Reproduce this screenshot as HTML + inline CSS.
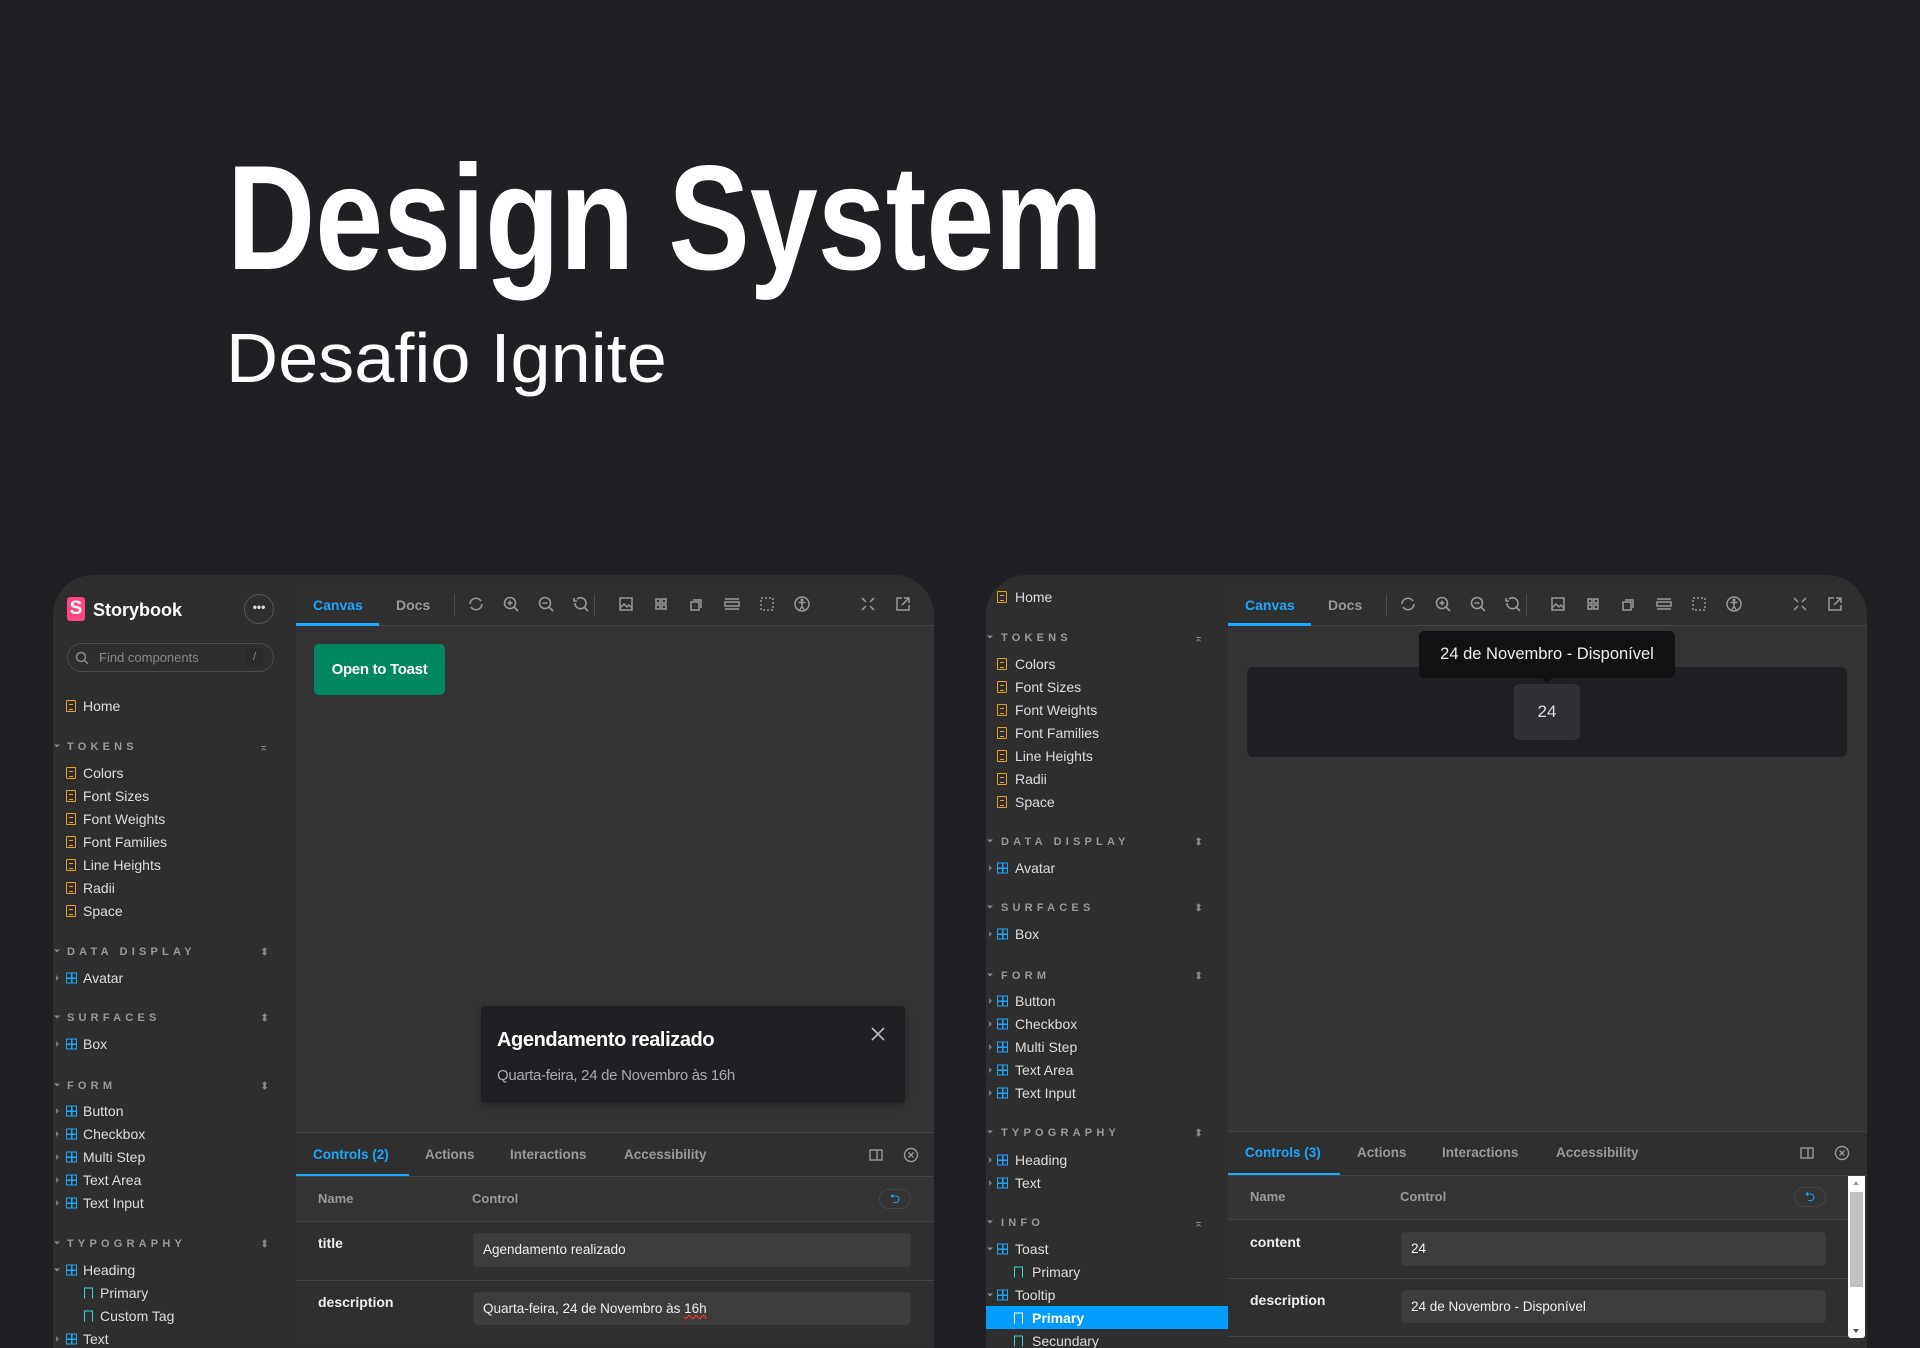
<!DOCTYPE html>
<html><head><meta charset="utf-8">
<style>
*{margin:0;padding:0;box-sizing:border-box}
body{width:1920px;height:1348px;background:#202024;overflow:hidden;position:relative;font-family:"Liberation Sans",Arial,sans-serif;color:#ddd}
.abs{position:absolute}
.t{position:absolute;white-space:nowrap;line-height:20px;transform:translateY(-50%)}
.panel{position:absolute;top:575px;width:881px;height:773px;border-radius:40px 40px 0 0;overflow:hidden;background:#2e2e2e}
.main{position:absolute;top:8px;bottom:8px;right:0;background:#333;border-radius:0 34px 0 0;overflow:hidden}
.tb{position:absolute;left:0;right:0;top:0;height:43px;background:#2f2f2f;border-bottom:1px solid #444}
.it{font-size:14px;color:#ddd}
.hd{font-size:11px;font-weight:bold;letter-spacing:4.2px;color:#999}
.doc{position:absolute;width:10px;height:12px;border:1.6px solid #e3a02c;border-radius:1px;transform:translateY(-50%)}
.doc:after{content:"";position:absolute;left:1.5px;top:2.5px;width:4px;height:4px;border-top:1.5px solid #e3a02c;border-bottom:1.5px solid #e3a02c}
.cmp{position:absolute;width:11px;height:11px;border:1.5px solid #1ea7fd;transform:translateY(-50%);background:linear-gradient(#1ea7fd,#1ea7fd) 3.5px 0/1.5px 100% no-repeat,linear-gradient(#1ea7fd,#1ea7fd) 0 3.5px/100% 1.5px no-repeat}
.sto{position:absolute;width:9px;height:11px;border:1.5px solid #37d5d3;border-bottom:none;transform:translateY(-50%)}
.car{position:absolute;width:0;height:0;border-top:3px solid transparent;border-bottom:3px solid transparent;border-left:3px solid #777;transform:translateY(-50%)}
.cdn{position:absolute;width:0;height:0;border-left:3px solid transparent;border-right:3px solid transparent;border-top:3px solid #888;transform:translateY(-50%)}
.tog{position:absolute;font-size:11px;color:#888;transform:translateY(-50%)}
.ic{position:absolute;top:12px;width:18px;height:18px}
.sep{position:absolute;top:11px;width:1px;height:22px;background:#4a4a4a}
.tab{font-size:14px;font-weight:bold;color:#999}
.inp{position:absolute;background:#3d3d3d;border-radius:4px;border:1px solid #3a3a3a}
.lbl{font-size:14px;font-weight:bold;color:#eee}
</style></head><body>

<div class="abs" style="left:227px;top:128px;font-size:149px;font-weight:bold;color:#fff;line-height:180px;transform:scaleX(0.82);transform-origin:0 0;white-space:nowrap">Design System</div>
<div class="abs" style="left:226px;top:313px;font-size:70px;color:#fff;line-height:90px;white-space:nowrap;transform:scaleX(1.03);transform-origin:0 0">Desafio Ignite</div>

<!-- LEFT PANEL -->
<div class="panel" style="left:53px">
  <div class="abs" style="left:14px;top:22px;width:18px;height:24px;background:#ff4785;border-radius:3px;color:#fff;font-weight:bold;font-size:19px;line-height:24px;text-align:center">S</div>
  <div class="t" style="left:40px;top:35px;font-size:18px;font-weight:bold;color:#fff">Storybook</div>
  <div class="abs" style="left:191px;top:19px;width:30px;height:30px;border:1.5px solid #555;border-radius:50%;color:#ddd;font-size:12px;line-height:24px;text-align:center;font-weight:bold">•••</div>
  <div class="abs" style="left:14px;top:68px;width:207px;height:29px;border:1.5px solid #4a4a4a;border-radius:15px"></div>
  <svg class="abs" style="left:22px;top:76px" width="14" height="14"><circle cx="6" cy="6" r="4.5" fill="none" stroke="#888" stroke-width="1.5"/><line x1="9.5" y1="9.5" x2="13" y2="13" stroke="#888" stroke-width="1.5"/></svg>
  <div class="t" style="left:46px;top:83px;font-size:13px;color:#888">Find components</div>
  <div class="abs" style="left:193px;top:74px;width:17px;height:17px;background:#2a2a2a;color:#888;font-size:11px;text-align:center;line-height:17px">/</div>

  <div class="doc" style="left:13px;top:131px"></div><div class="t it" style="left:30px;top:131px">Home</div>

  <div class="cdn" style="left:1px;top:171px"></div>
  <div class="t hd" style="left:14px;top:172px">TOKENS</div><div class="tog" style="left:206px;top:172px">⌅</div>
  <div class="doc" style="left:13px;top:198px"></div><div class="t it" style="left:30px;top:198px">Colors</div>
  <div class="doc" style="left:13px;top:221px"></div><div class="t it" style="left:30px;top:221px">Font Sizes</div>
  <div class="doc" style="left:13px;top:244px"></div><div class="t it" style="left:30px;top:244px">Font Weights</div>
  <div class="doc" style="left:13px;top:267px"></div><div class="t it" style="left:30px;top:267px">Font Families</div>
  <div class="doc" style="left:13px;top:290px"></div><div class="t it" style="left:30px;top:290px">Line Heights</div>
  <div class="doc" style="left:13px;top:313px"></div><div class="t it" style="left:30px;top:313px">Radii</div>
  <div class="doc" style="left:13px;top:336px"></div><div class="t it" style="left:30px;top:336px">Space</div>

  <div class="cdn" style="left:1px;top:376px"></div><div class="t hd" style="left:14px;top:377px">DATA DISPLAY</div><div class="tog" style="left:207px;top:377px">⬍</div>
  <div class="car" style="left:3px;top:403px"></div><div class="cmp" style="left:13px;top:403px"></div><div class="t it" style="left:30px;top:403px">Avatar</div>

  <div class="cdn" style="left:1px;top:442px"></div><div class="t hd" style="left:14px;top:443px">SURFACES</div><div class="tog" style="left:207px;top:443px">⬍</div>
  <div class="car" style="left:3px;top:469px"></div><div class="cmp" style="left:13px;top:469px"></div><div class="t it" style="left:30px;top:469px">Box</div>

  <div class="cdn" style="left:1px;top:510px"></div><div class="t hd" style="left:14px;top:511px">FORM</div><div class="tog" style="left:207px;top:511px">⬍</div>
  <div class="car" style="left:3px;top:536px"></div><div class="cmp" style="left:13px;top:536px"></div><div class="t it" style="left:30px;top:536px">Button</div>
  <div class="car" style="left:3px;top:559px"></div><div class="cmp" style="left:13px;top:559px"></div><div class="t it" style="left:30px;top:559px">Checkbox</div>
  <div class="car" style="left:3px;top:582px"></div><div class="cmp" style="left:13px;top:582px"></div><div class="t it" style="left:30px;top:582px">Multi Step</div>
  <div class="car" style="left:3px;top:605px"></div><div class="cmp" style="left:13px;top:605px"></div><div class="t it" style="left:30px;top:605px">Text Area</div>
  <div class="car" style="left:3px;top:628px"></div><div class="cmp" style="left:13px;top:628px"></div><div class="t it" style="left:30px;top:628px">Text Input</div>

  <div class="cdn" style="left:1px;top:668px"></div><div class="t hd" style="left:14px;top:669px">TYPOGRAPHY</div><div class="tog" style="left:207px;top:669px">⬍</div>
  <div class="cdn" style="left:1px;top:695px"></div><div class="cmp" style="left:13px;top:695px"></div><div class="t it" style="left:30px;top:695px">Heading</div>
  <div class="sto" style="left:31px;top:718px"></div><div class="t it" style="left:47px;top:718px">Primary</div>
  <div class="sto" style="left:31px;top:741px"></div><div class="t it" style="left:47px;top:741px">Custom Tag</div>
  <div class="car" style="left:3px;top:764px"></div><div class="cmp" style="left:13px;top:764px"></div><div class="t it" style="left:30px;top:764px">Text</div>

  <div class="main" style="left:243px">
    <div class="tb">
      <div class="t tab" style="left:17px;top:22px;color:#1ea7fd">Canvas</div>
      <div class="abs" style="left:0;top:40px;width:83px;height:3px;background:#1ea7fd"></div>
      <div class="t tab" style="left:100px;top:22px">Docs</div>
      <div class="sep" style="left:158px"></div>
      <svg class="ic" style="left:171px" viewBox="0 0 18 18" fill="none" stroke="#999" stroke-width="1.6"><path d="M3 9a6 6 0 0 1 11-3M15 9a6 6 0 0 1-11 3"/></svg>
      <svg class="ic" style="left:206px" viewBox="0 0 18 18" fill="none" stroke="#999" stroke-width="1.6"><circle cx="8" cy="8" r="5.5"/><path d="M12 12l4 4M5.5 8h5M8 5.5v5"/></svg>
      <svg class="ic" style="left:241px" viewBox="0 0 18 18" fill="none" stroke="#999" stroke-width="1.6"><circle cx="8" cy="8" r="5.5"/><path d="M12 12l4 4M5.5 8h5"/></svg>
      <svg class="ic" style="left:276px" viewBox="0 0 18 18" fill="none" stroke="#999" stroke-width="1.6"><path d="M3 8a5.5 5.5 0 1 0 2-4M12 12l4 4M2 3v3h3"/></svg>
      <div class="sep" style="left:298px"></div>
      <svg class="ic" style="left:321px" viewBox="0 0 18 18" fill="none" stroke="#999" stroke-width="1.5"><rect x="3" y="3" width="12" height="12"/><path d="M3 13l4-4 3 3 2-2 3 3"/></svg>
      <svg class="ic" style="left:356px" viewBox="0 0 18 18" fill="none" stroke="#999" stroke-width="1.5"><rect x="4" y="4" width="4" height="4"/><rect x="10" y="4" width="4" height="4"/><rect x="4" y="10" width="4" height="4"/><rect x="10" y="10" width="4" height="4"/></svg>
      <svg class="ic" style="left:391px" viewBox="0 0 18 18" fill="none" stroke="#999" stroke-width="1.5"><rect x="4" y="7" width="8" height="8"/><path d="M6 5h8v8"/></svg>
      <svg class="ic" style="left:427px" viewBox="0 0 18 18" fill="none" stroke="#999" stroke-width="1.5"><path d="M2 4h14M2 14h14"/><rect x="2" y="7" width="14" height="4"/></svg>
      <svg class="ic" style="left:462px" viewBox="0 0 18 18" fill="none" stroke="#999" stroke-width="1.5" stroke-dasharray="2 2"><rect x="3" y="3" width="12" height="12"/></svg>
      <svg class="ic" style="left:497px" viewBox="0 0 18 18" fill="none" stroke="#999" stroke-width="1.5"><circle cx="9" cy="9" r="7"/><path d="M5.5 7.5h7M9 7.5v4l-2 3M9 11.5l2 3"/><circle cx="9" cy="5" r="0.8" fill="#999"/></svg>
      <svg class="ic" style="left:563px" viewBox="0 0 18 18" fill="none" stroke="#999" stroke-width="1.5"><path d="M3 3l4 4M15 3l-4 4M3 15l4-4M15 15l-4-4"/></svg>
      <svg class="ic" style="left:598px" viewBox="0 0 18 18" fill="none" stroke="#999" stroke-width="1.5"><path d="M8 3H3v12h12v-5M10 3h5v5M15 3l-7 7"/></svg>
    </div>
    <div class="abs" style="left:18px;top:61px;width:131px;height:51px;background:#00875f;border-radius:5px;color:#fff;font-weight:bold;font-size:15px;line-height:51px;text-align:center;letter-spacing:-0.3px">Open to Toast</div>
    <div class="abs" style="left:185px;top:423px;width:424px;height:97px;background:#202024;border-radius:4px;box-shadow:0 2px 8px rgba(0,0,0,.3)"></div>
    <div class="t" style="left:201px;top:457px;font-size:20px;font-weight:bold;color:#fff;letter-spacing:-0.4px">Agendamento realizado</div>
    <div class="t" style="left:201px;top:493px;font-size:15px;color:#a9a9b2;letter-spacing:-0.3px">Quarta-feira, 24 de Novembro às 16h</div>
    <svg class="abs" style="left:575px;top:444px" width="14" height="14" stroke="#bbb" stroke-width="1.6"><path d="M1 1l12 12M13 1L1 13"/></svg>

    <div class="abs" style="left:0;right:0;top:549px;bottom:0;background:#2f2f2f;border-top:1px solid #444"></div>
    <div class="t tab" style="left:17px;top:572px;color:#1ea7fd;font-size:13.5px">Controls (2)</div>
    <div class="abs" style="left:0;top:591px;width:113px;height:3px;background:#1ea7fd"></div>
    <div class="t tab" style="left:129px;top:572px;font-size:13.5px">Actions</div>
    <div class="t tab" style="left:214px;top:572px;font-size:13.5px">Interactions</div>
    <div class="t tab" style="left:328px;top:572px;font-size:13.5px">Accessibility</div>
    <svg class="abs" style="left:573px;top:565px" width="14" height="14" fill="none" stroke="#999" stroke-width="1.4"><rect x="1" y="2" width="12" height="10"/><path d="M8 2v10"/></svg>
    <svg class="abs" style="left:607px;top:564px" width="16" height="16" fill="none" stroke="#999" stroke-width="1.4"><circle cx="8" cy="8" r="6.5"/><path d="M5.5 5.5l5 5M10.5 5.5l-5 5"/></svg>
    <div class="abs" style="left:0;right:0;top:593px;height:1px;background:#444"></div>
    <div class="abs" style="left:0;right:0;top:594px;height:44px;background:#333"></div>
    <div class="t" style="left:22px;top:616px;font-size:13px;font-weight:bold;color:#999">Name</div>
    <div class="t" style="left:176px;top:616px;font-size:13px;font-weight:bold;color:#999">Control</div>
    <div class="abs" style="left:583px;top:606px;width:32px;height:20px;border:1px solid #444;border-radius:10px;color:#1ea7fd;font-size:13px;text-align:center;line-height:18px">⮌</div>
    <div class="abs" style="left:0;right:0;top:638px;height:1px;background:#444"></div>
    <div class="t lbl" style="left:22px;top:660px">title</div>
    <div class="inp" style="left:177px;top:650px;width:438px;height:34px"></div>
    <div class="t" style="left:187px;top:667px;font-size:13.5px;color:#eee">Agendamento realizado</div>
    <div class="abs" style="left:0;right:0;top:697px;height:1px;background:#444"></div>
    <div class="t lbl" style="left:22px;top:719px">description</div>
    <div class="inp" style="left:177px;top:709px;width:438px;height:33px"></div>
    <div class="t" style="left:187px;top:726px;font-size:13.5px;color:#eee">Quarta-feira, 24 de Novembro às <span style="text-decoration:underline wavy #e33">16h</span></div>
  </div>
</div>

<!-- RIGHT PANEL -->
<div class="panel" style="left:986px">
  <div class="doc" style="left:11px;top:22px"></div><div class="t it" style="left:29px;top:22px">Home</div>
  <div class="cdn" style="left:1px;top:62px"></div><div class="t hd" style="left:15px;top:63px">TOKENS</div><div class="tog" style="left:208px;top:63px">⌅</div>
  <div class="doc" style="left:11px;top:89px"></div><div class="t it" style="left:29px;top:89px">Colors</div>
  <div class="doc" style="left:11px;top:112px"></div><div class="t it" style="left:29px;top:112px">Font Sizes</div>
  <div class="doc" style="left:11px;top:135px"></div><div class="t it" style="left:29px;top:135px">Font Weights</div>
  <div class="doc" style="left:11px;top:158px"></div><div class="t it" style="left:29px;top:158px">Font Families</div>
  <div class="doc" style="left:11px;top:181px"></div><div class="t it" style="left:29px;top:181px">Line Heights</div>
  <div class="doc" style="left:11px;top:204px"></div><div class="t it" style="left:29px;top:204px">Radii</div>
  <div class="doc" style="left:11px;top:227px"></div><div class="t it" style="left:29px;top:227px">Space</div>

  <div class="cdn" style="left:1px;top:266px"></div><div class="t hd" style="left:15px;top:267px">DATA DISPLAY</div><div class="tog" style="left:208px;top:267px">⬍</div>
  <div class="car" style="left:3px;top:293px"></div><div class="cmp" style="left:11px;top:293px"></div><div class="t it" style="left:29px;top:293px">Avatar</div>
  <div class="cdn" style="left:1px;top:332px"></div><div class="t hd" style="left:15px;top:333px">SURFACES</div><div class="tog" style="left:208px;top:333px">⬍</div>
  <div class="car" style="left:3px;top:359px"></div><div class="cmp" style="left:11px;top:359px"></div><div class="t it" style="left:29px;top:359px">Box</div>
  <div class="cdn" style="left:1px;top:400px"></div><div class="t hd" style="left:15px;top:401px">FORM</div><div class="tog" style="left:208px;top:401px">⬍</div>
  <div class="car" style="left:3px;top:426px"></div><div class="cmp" style="left:11px;top:426px"></div><div class="t it" style="left:29px;top:426px">Button</div>
  <div class="car" style="left:3px;top:449px"></div><div class="cmp" style="left:11px;top:449px"></div><div class="t it" style="left:29px;top:449px">Checkbox</div>
  <div class="car" style="left:3px;top:472px"></div><div class="cmp" style="left:11px;top:472px"></div><div class="t it" style="left:29px;top:472px">Multi Step</div>
  <div class="car" style="left:3px;top:495px"></div><div class="cmp" style="left:11px;top:495px"></div><div class="t it" style="left:29px;top:495px">Text Area</div>
  <div class="car" style="left:3px;top:518px"></div><div class="cmp" style="left:11px;top:518px"></div><div class="t it" style="left:29px;top:518px">Text Input</div>
  <div class="cdn" style="left:1px;top:557px"></div><div class="t hd" style="left:15px;top:558px">TYPOGRAPHY</div><div class="tog" style="left:208px;top:558px">⬍</div>
  <div class="car" style="left:3px;top:585px"></div><div class="cmp" style="left:11px;top:585px"></div><div class="t it" style="left:29px;top:585px">Heading</div>
  <div class="car" style="left:3px;top:608px"></div><div class="cmp" style="left:11px;top:608px"></div><div class="t it" style="left:29px;top:608px">Text</div>
  <div class="cdn" style="left:1px;top:647px"></div><div class="t hd" style="left:15px;top:648px">INFO</div><div class="tog" style="left:208px;top:648px">⌅</div>
  <div class="cdn" style="left:1px;top:674px"></div><div class="cmp" style="left:11px;top:674px"></div><div class="t it" style="left:29px;top:674px">Toast</div>
  <div class="sto" style="left:28px;top:697px"></div><div class="t it" style="left:46px;top:697px">Primary</div>
  <div class="cdn" style="left:1px;top:720px"></div><div class="cmp" style="left:11px;top:720px"></div><div class="t it" style="left:29px;top:720px">Tooltip</div>
  <div class="abs" style="left:0;top:731px;width:242px;height:23px;background:#029cfd"></div>
  <div class="sto" style="left:28px;top:743px;border-color:#fff"></div><div class="t it" style="left:46px;top:743px;color:#fff;font-weight:bold">Primary</div>
  <div class="sto" style="left:28px;top:766px"></div><div class="t it" style="left:46px;top:766px">Secundary</div>

  <div class="main" style="left:242px">
    <div class="tb">
      <div class="t tab" style="left:17px;top:22px;color:#1ea7fd">Canvas</div>
      <div class="abs" style="left:0;top:40px;width:83px;height:3px;background:#1ea7fd"></div>
      <div class="t tab" style="left:100px;top:22px">Docs</div>
      <div class="sep" style="left:158px"></div>
      <svg class="ic" style="left:171px" viewBox="0 0 18 18" fill="none" stroke="#999" stroke-width="1.6"><path d="M3 9a6 6 0 0 1 11-3M15 9a6 6 0 0 1-11 3"/></svg>
      <svg class="ic" style="left:206px" viewBox="0 0 18 18" fill="none" stroke="#999" stroke-width="1.6"><circle cx="8" cy="8" r="5.5"/><path d="M12 12l4 4M5.5 8h5M8 5.5v5"/></svg>
      <svg class="ic" style="left:241px" viewBox="0 0 18 18" fill="none" stroke="#999" stroke-width="1.6"><circle cx="8" cy="8" r="5.5"/><path d="M12 12l4 4M5.5 8h5"/></svg>
      <svg class="ic" style="left:276px" viewBox="0 0 18 18" fill="none" stroke="#999" stroke-width="1.6"><path d="M3 8a5.5 5.5 0 1 0 2-4M12 12l4 4M2 3v3h3"/></svg>
      <div class="sep" style="left:298px"></div>
      <svg class="ic" style="left:321px" viewBox="0 0 18 18" fill="none" stroke="#999" stroke-width="1.5"><rect x="3" y="3" width="12" height="12"/><path d="M3 13l4-4 3 3 2-2 3 3"/></svg>
      <svg class="ic" style="left:356px" viewBox="0 0 18 18" fill="none" stroke="#999" stroke-width="1.5"><rect x="4" y="4" width="4" height="4"/><rect x="10" y="4" width="4" height="4"/><rect x="4" y="10" width="4" height="4"/><rect x="10" y="10" width="4" height="4"/></svg>
      <svg class="ic" style="left:391px" viewBox="0 0 18 18" fill="none" stroke="#999" stroke-width="1.5"><rect x="4" y="7" width="8" height="8"/><path d="M6 5h8v8"/></svg>
      <svg class="ic" style="left:427px" viewBox="0 0 18 18" fill="none" stroke="#999" stroke-width="1.5"><path d="M2 4h14M2 14h14"/><rect x="2" y="7" width="14" height="4"/></svg>
      <svg class="ic" style="left:462px" viewBox="0 0 18 18" fill="none" stroke="#999" stroke-width="1.5" stroke-dasharray="2 2"><rect x="3" y="3" width="12" height="12"/></svg>
      <svg class="ic" style="left:497px" viewBox="0 0 18 18" fill="none" stroke="#999" stroke-width="1.5"><circle cx="9" cy="9" r="7"/><path d="M5.5 7.5h7M9 7.5v4l-2 3M9 11.5l2 3"/><circle cx="9" cy="5" r="0.8" fill="#999"/></svg>
      <svg class="ic" style="left:563px" viewBox="0 0 18 18" fill="none" stroke="#999" stroke-width="1.5"><path d="M3 3l4 4M15 3l-4 4M3 15l4-4M15 15l-4-4"/></svg>
      <svg class="ic" style="left:598px" viewBox="0 0 18 18" fill="none" stroke="#999" stroke-width="1.5"><path d="M8 3H3v12h12v-5M10 3h5v5M15 3l-7 7"/></svg>
    </div>
    <div class="abs" style="left:19px;top:84px;width:600px;height:90px;background:#202024;border-radius:6px"></div>
    <div class="abs" style="left:286px;top:101px;width:66px;height:56px;background:#2f2f34;border-radius:5px;color:#ddd;font-size:17px;line-height:56px;text-align:center">24</div>
    <div class="abs" style="left:191px;top:48px;width:256px;height:47px;background:#121214;border-radius:5px"></div>
    <div class="abs" style="left:313px;top:94px;width:0;height:0;border-left:6px solid transparent;border-right:6px solid transparent;border-top:6px solid #121214"></div>
    <div class="t" style="left:191px;width:256px;text-align:center;top:71px;font-size:16.5px;color:#eee">24 de Novembro - Disponível</div>

    <div class="abs" style="left:0;right:0;top:548px;bottom:0;background:#2f2f2f;border-top:1px solid #444"></div>
    <div class="t tab" style="left:17px;top:570px;color:#1ea7fd;font-size:13.5px">Controls (3)</div>
    <div class="abs" style="left:0;top:590px;width:112px;height:3px;background:#1ea7fd"></div>
    <div class="t tab" style="left:129px;top:570px;font-size:13.5px">Actions</div>
    <div class="t tab" style="left:214px;top:570px;font-size:13.5px">Interactions</div>
    <div class="t tab" style="left:328px;top:570px;font-size:13.5px">Accessibility</div>
    <svg class="abs" style="left:572px;top:563px" width="14" height="14" fill="none" stroke="#999" stroke-width="1.4"><rect x="1" y="2" width="12" height="10"/><path d="M8 2v10"/></svg>
    <svg class="abs" style="left:606px;top:562px" width="16" height="16" fill="none" stroke="#999" stroke-width="1.4"><circle cx="8" cy="8" r="6.5"/><path d="M5.5 5.5l5 5M10.5 5.5l-5 5"/></svg>
    <div class="abs" style="left:0;right:0;top:592px;height:1px;background:#444"></div>
    <div class="abs" style="left:0;right:19px;top:593px;height:44px;background:#333"></div>
    <div class="t" style="left:22px;top:614px;font-size:13px;font-weight:bold;color:#999">Name</div>
    <div class="t" style="left:172px;top:614px;font-size:13px;font-weight:bold;color:#999">Control</div>
    <div class="abs" style="left:566px;top:604px;width:32px;height:20px;border:1px solid #444;border-radius:10px;color:#1ea7fd;font-size:13px;text-align:center;line-height:18px">⮌</div>
    <div class="abs" style="left:0;right:19px;top:636px;height:1px;background:#444"></div>
    <div class="t lbl" style="left:22px;top:659px">content</div>
    <div class="inp" style="left:173px;top:649px;width:425px;height:34px"></div>
    <div class="t" style="left:183px;top:666px;font-size:13.5px;color:#eee">24</div>
    <div class="abs" style="left:0;right:19px;top:695px;height:1px;background:#444"></div>
    <div class="t lbl" style="left:22px;top:717px">description</div>
    <div class="inp" style="left:173px;top:707px;width:425px;height:33px"></div>
    <div class="t" style="left:183px;top:724px;font-size:13.5px;color:#eee">24 de Novembro - Disponível</div>
    <div class="abs" style="left:0;right:19px;top:753px;height:1px;background:#444"></div>
    <div class="abs" style="left:620px;top:593px;width:17px;height:162px;background:#fff;border-radius:0 0 3px 3px"></div>
    <div class="abs" style="left:622px;top:609px;width:13px;height:95px;background:#c1c1c1"></div>
    <div class="abs" style="left:625px;top:598px;width:0;height:0;border-left:3.5px solid transparent;border-right:3.5px solid transparent;border-bottom:4px solid #a0a0a0"></div>
    <div class="abs" style="left:625px;top:746px;width:0;height:0;border-left:3.5px solid transparent;border-right:3.5px solid transparent;border-top:4px solid #505050"></div>
  </div>
</div>
</body></html>
